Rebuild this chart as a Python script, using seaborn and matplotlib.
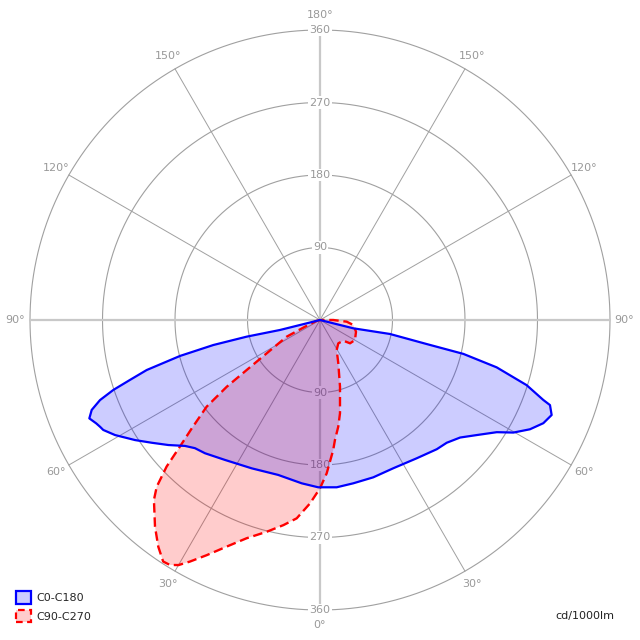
import numpy as np
import pandas as pd
import matplotlib
matplotlib.use('Agg')
import matplotlib.pyplot as plt
from matplotlib.patches import Patch
import seaborn as sns

# Photometric data, listed along each outline:
# gamma angle (deg, 0 = straight down, + right / - left) and intensity in cd/1000lm
blue_gamma = [-90, -76.0, -76.0, -77.2, -76.8, -75.6, -73.9, -72.5, -71.3, -70.0, -68.5,
              -66.9, -65.2, -64.1, -63.1, -60.7, -57.0, -53.9, -50.5, -47.0, -44.3,
              -40.8, -34.2, -24.7, -15.1, -6.4, -0.6, 5.7, 11.5, 18.7, 26.3, 35.0,
              42.1, 45.9, 50.0, 53.7, 57.6, 59.8, 62.5, 65.2, 67.7, 69.7, 70.3, 72.5,
              75.0, 76.7, 77.3, 78.7, 76.0, 90]
blue_cd = [0, 8.6, 51.2, 93.3, 136.0, 179.4, 223.9, 247.3, 270.9, 290.6, 304.6,
           311.3, 306.0, 303.5, 301.7, 291.8, 273.7, 258.6, 244.0, 229.2, 222.3,
           218.5, 210.0, 202.7, 199.2, 204.0, 207.7, 208.7, 206.9, 206.2, 205.3, 209.5,
           216.2, 219.0, 227.0, 241.3, 259.9, 277.8, 293.8, 305.4, 310.8, 304.4, 294.4, 269.0,
           227.0, 182.8, 135.8, 88.6, 42.6, 0]

red_gamma = [-90, -75, -66, -63.4, -58.0, -55.7, -54.4, -52.6, -49.8, -47.9, -46.3,
             -44.4, -42.7, -38.6, -35.5, -33.0, -31.5, -30.0, -28.3, -25.7, -22.4,
             -18.6, -14.1, -10.1, -6.7, -3.1, 0, 2.5, 5.8, 7.1, 9.7, 12.1, 16.7,
             22.9, 29.1, 38.1, 48.4, 52.2, 60.3, 72.0, 81.5, 86.4, 90, 95]
red_cd = [0, 5, 20, 46.3, 78.0, 110.2, 142.4, 177.1, 208.4, 234.4, 263.4,
          289.7, 304.0, 328.3, 345.7, 357.5, 356.6, 351.3, 340.6, 323.9, 304.3,
          285.9, 271.0, 258.6, 247.9, 227.9, 208.9, 190.5, 162.2, 150.1, 134.4, 118.4, 86.4,
          58.4, 42.6, 36.8, 38.7, 47.2, 50.0, 47.0, 41.8, 33.2, 16.5, 0]

rings = [90, 180, 270, 360]
angle_labels = [0, 30, 60, 90, 120, 150, 180]
series_names = ["C0-C180", "C90-C270"]
unit_label = "cd/1000lm"

sns.set_theme(style="white")
plt.rcParams['font.family'] = ['DejaVu Sans']

fig = plt.figure(figsize=(6.4, 6.4), dpi=100)
ax = fig.add_axes([30 / 640, 30 / 640, 580 / 640, 580 / 640], projection='polar')
ax.set_theta_zero_location('S')
ax.set_theta_direction(1)
ax.grid(False)
ax.spines['polar'].set_visible(False)

# grid circles and spokes
th = np.linspace(0, 2 * np.pi, 721)
for r in rings:
    ax.plot(th, np.full_like(th, r), color='#a0a0a0', lw=0.8, zorder=1, clip_on=False)
for deg in range(0, 360, 30):
    main = deg % 90 == 0
    ax.plot([np.deg2rad(deg)] * 2, [0, 360], color='#c8c8c8' if main else '#a0a0a0',
            lw=1.6 if main else 0.7, zorder=1, clip_on=False)

# ring value labels on the vertical axis
for r in rings:
    for t in (0, np.pi):
        ax.text(t, r, str(r), ha='center', va='center', fontsize=8, color='#999999',
                zorder=2, bbox=dict(facecolor='white', edgecolor='none', pad=1))

# angle labels outside the outer ring
for deg in angle_labels:
    sides = [deg] if deg in (0, 180) else [deg, -deg]
    for s in sides:
        ax.text(np.deg2rad(s), 378, f"{deg}°", ha='center', va='center', fontsize=8,
                color='#999999', clip_on=False)

red = pd.DataFrame({'theta': np.deg2rad(red_gamma), 'cd': red_cd})
blue = pd.DataFrame({'theta': np.deg2rad(blue_gamma), 'cd': blue_cd})

ax.fill(red['theta'], red['cd'], color='#ff0000', alpha=0.2, lw=0, zorder=3)
ax.fill(blue['theta'], blue['cd'], color='#0000ff', alpha=0.2, lw=0, zorder=4)
sns.lineplot(data=red, x='theta', y='cd', sort=False, estimator=None, color='#ff0000',
             lw=1.7, linestyle=(0, (4, 2)), ax=ax, zorder=5)
sns.lineplot(data=blue, x='theta', y='cd', sort=False, estimator=None, color='#0000ff',
             lw=1.6, ax=ax, zorder=6)

ax.set_ylim(0, 360)
ax.set_xticks([])
ax.set_yticks([])
ax.set_xlabel('')
ax.set_ylabel('')

handles = [Patch(facecolor='#ccccff', edgecolor='#0000ff', lw=1.6),
           Patch(facecolor='#ffcccc', edgecolor='#ff0000', lw=1.6, linestyle=(0, (3, 2)))]
fig.legend(handles, series_names, loc='lower left', bbox_to_anchor=(0.01, 0.012),
           frameon=False, handlelength=1.3, handleheight=1.3, fontsize=8,
           handletextpad=0.5, labelspacing=0.6)
fig.text(585 / 640, 1 - 616 / 640, unit_label, ha='center', va='center', fontsize=8,
         color='#222222')

fig.savefig('out.png', dpi=100)
